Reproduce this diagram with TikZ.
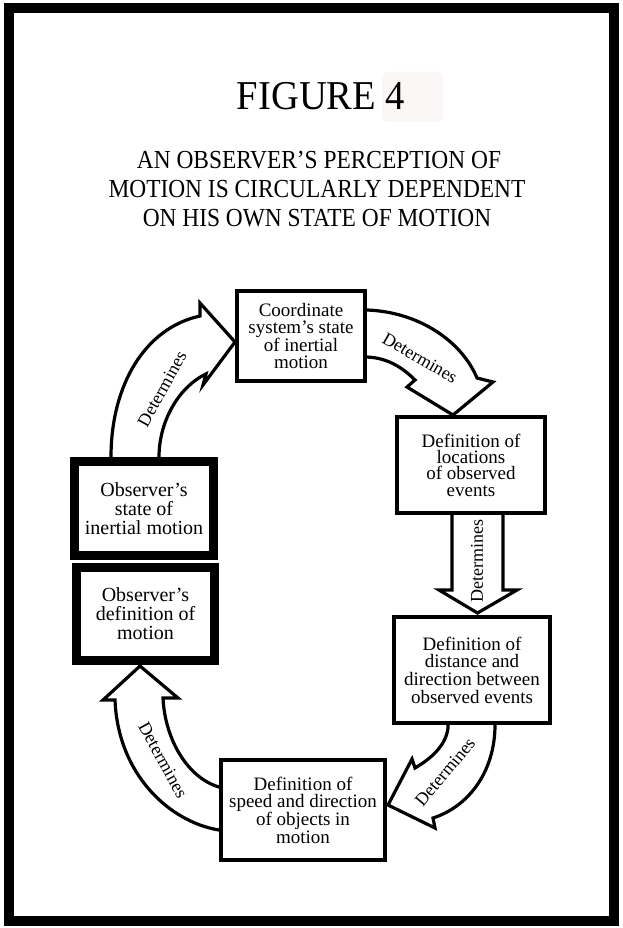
\documentclass[tikz,border=0pt]{standalone}
\usepackage{fontspec}
\setmainfont{Liberation Serif}
\newfontfamily\titlefam[FakeStretch=0.94]{Liberation Serif}
\newfontfamily\subfam[FakeStretch=0.9]{Liberation Serif}
\definecolor{pinkish}{RGB}{252,247,247}
\newcommand\myboxfont{\fontsize{19}{17.6}\selectfont}
\newcommand\mylblfont{\fontsize{18}{18}\selectfont}
\begin{document}
\begin{tikzpicture}[x=1pt,y=-1pt,
  box/.style={draw,fill=white,line width=4.5pt,align=center,inner sep=0pt,font=\myboxfont},
  obox/.style={box,line width=9pt,font=\fontsize{20}{19}\selectfont},
  fat/.style={draw,fill=white,line width=3.2pt,line join=miter},
  lbl/.style={font=\mylblfont,inner sep=0pt},
  sub/.style={anchor=base,inner sep=0pt,font=\subfam\fontsize{26}{26}\selectfont}]
\useasboundingbox (0,0) rectangle (623,928);
\fill[white] (0,0) rectangle (623,928);
\draw[line width=10pt] (9,8) rectangle (614,921);
% title
\fill[pinkish,rounded corners=6pt] (382,72) rectangle (443,122);
\node[anchor=base,inner sep=0pt,font=\titlefam\fontsize{41}{41}\selectfont] (title) at (321,110) {FIGURE 4};
\node[sub] (sub1) at (319,168) {AN OBSERVER’S PERCEPTION OF};
\node[sub] (sub2) at (317,197) {MOTION IS CIRCULARLY DEPENDENT};
\node[sub] (sub3) at (317,226) {ON HIS OWN STATE OF MOTION};
% fat arrows
\path[fat] (111,463) -- (111,457) .. controls (111,385) and (145,328) .. (200,316) -- (200,303) -- (235,342) -- (203,385) -- (206,374) .. controls (180,386) and (159,420) .. (159,457) -- (159,463) -- cycle;
\path[fat] (360,310) -- (367,310) .. controls (420,312) and (462,342) .. (477,378) -- (493,382) -- (453,415) -- (407,387) -- (415,380) .. controls (405,370) and (390,358) .. (367,357) -- (360,357) -- cycle;
\path[fat] (452,510) -- (452,590) -- (439,590) -- (477.5,613) -- (517,590) -- (503,590) -- (503,510) -- cycle;
\path[fat] (495,720) -- (495,725) .. controls (495,770) and (470,806) .. (433,818) -- (435,828) -- (388,805) -- (412,759) -- (415,768) .. controls (432,758) and (446,745) .. (448,728) -- (448,720) -- cycle;
\path[fat] (225,830) -- (219,830) .. controls (170,822) and (118,775) .. (115,700) -- (103,700) -- (140,666) -- (178,698) -- (163,698) .. controls (165,740) and (188,778) .. (219,787) -- (225,787) -- cycle;
% boxes
\node[box,minimum width=128pt,minimum height=90pt] (A) at (301,336) {Coordinate\\system’s state\\of inertial\\motion};
\node[box,minimum width=148pt,minimum height=96pt,font=\fontsize{19}{16.3}\selectfont] (B) at (471,465) {Definition of\\locations\\of observed\\events};
\node[obox,minimum width=139pt,minimum height=94pt] (C) at (144,508.5) {Observer’s\\state of\\inertial motion};
\node[obox,minimum width=138pt,minimum height=93pt] (D) at (145.5,614) {Observer’s\\definition of\\motion};
\node[box,minimum width=156pt,minimum height=106pt] (E) at (472,670) {Definition of\\distance and\\direction between\\observed events};
\node[box,minimum width=164pt,minimum height=100pt] (F) at (303,810) {Definition of\\speed and direction\\of objects in\\motion};
% labels
\node[lbl,rotate=61] (t1) at (162,389) {Determines};
\node[lbl,rotate=-30] (t2) at (420,358) {Determines};
\node[lbl,rotate=90] (t3) at (477,561) {Determines};
\node[lbl,rotate=50] (t4) at (445,772) {Determines};
\node[lbl,rotate=-61] (t5) at (163,760) {Determines};
\end{tikzpicture}
\end{document}
